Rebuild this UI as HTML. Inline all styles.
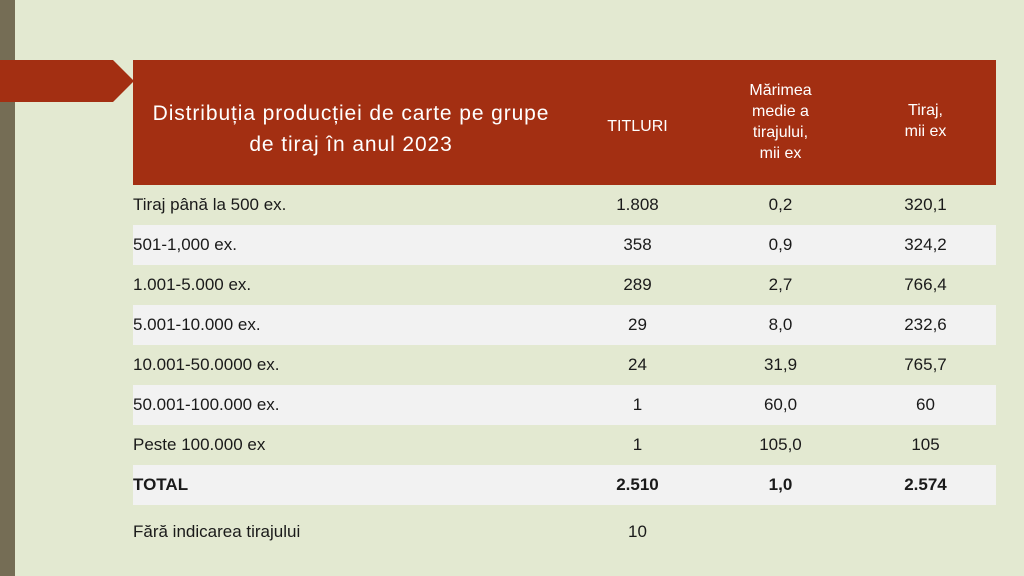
<!DOCTYPE html>
<html><head><meta charset="utf-8"><style>
body{margin:0;width:1024px;height:576px;background:#e3e9d1;position:relative;overflow:hidden;font-family:"Liberation Sans",sans-serif}
.bar{position:absolute;left:0;top:0;width:15px;height:576px;background:#756d55}
.hdr{position:absolute;left:133px;top:60px;width:863px;height:125px;background:#a32f12;color:#fff}
.hdr div{position:absolute;text-align:center}
.row{position:absolute;left:133px;width:863px;height:40px;font-size:17px;color:#1a1a1a}
.row.l{background:#f2f2f2}
.row span{position:absolute;top:10px}
.c1{left:0}.c2{left:437px;width:135px;text-align:center}.c3{left:580px;width:135px;text-align:center}.c4{left:725px;width:135px;text-align:center}
</style></head><body>
<div class="bar"></div>
<svg style="position:absolute;left:0;top:0" width="140" height="110"><polygon points="0,60 113,60 134,81 113,102 0,102" fill="#a32f12"/></svg>
<div class="hdr">
<div style="left:0;width:436px;top:38px;font-size:21px;line-height:31px;letter-spacing:0.9px">Distribuția producției de carte pe grupe<br>de tiraj în anul 2023</div>
<div style="left:437px;width:135px;top:58px;font-size:16px">TITLURI</div>
<div style="left:580px;width:135px;top:20px;font-size:16px;line-height:21px">Mărimea<br>medie a<br>tirajului,<br>mii ex</div>
<div style="left:725px;width:135px;top:40px;font-size:16px;line-height:21px">Tiraj,<br>mii ex</div>
</div>
<div class="row" style="top:185px"><span class="c1">Tiraj până la 500 ex.</span><span class="c2">1.808</span><span class="c3">0,2</span><span class="c4">320,1</span></div>
<div class="row l" style="top:225px"><span class="c1">501-1,000 ex.</span><span class="c2">358</span><span class="c3">0,9</span><span class="c4">324,2</span></div>
<div class="row" style="top:265px"><span class="c1">1.001-5.000 ex.</span><span class="c2">289</span><span class="c3">2,7</span><span class="c4">766,4</span></div>
<div class="row l" style="top:305px"><span class="c1">5.001-10.000 ex.</span><span class="c2">29</span><span class="c3">8,0</span><span class="c4">232,6</span></div>
<div class="row" style="top:345px"><span class="c1">10.001-50.0000 ex.</span><span class="c2">24</span><span class="c3">31,9</span><span class="c4">765,7</span></div>
<div class="row l" style="top:385px"><span class="c1">50.001-100.000 ex.</span><span class="c2">1</span><span class="c3">60,0</span><span class="c4">60</span></div>
<div class="row" style="top:425px"><span class="c1">Peste 100.000 ex</span><span class="c2">1</span><span class="c3">105,0</span><span class="c4">105</span></div>
<div class="row l" style="top:465px;font-weight:bold"><span class="c1">TOTAL</span><span class="c2">2.510</span><span class="c3">1,0</span><span class="c4">2.574</span></div>
<div class="row" style="top:505px"><span class="c1" style="top:17px">Fără indicarea tirajului</span><span class="c2" style="top:17px">10</span></div>
</body></html>
